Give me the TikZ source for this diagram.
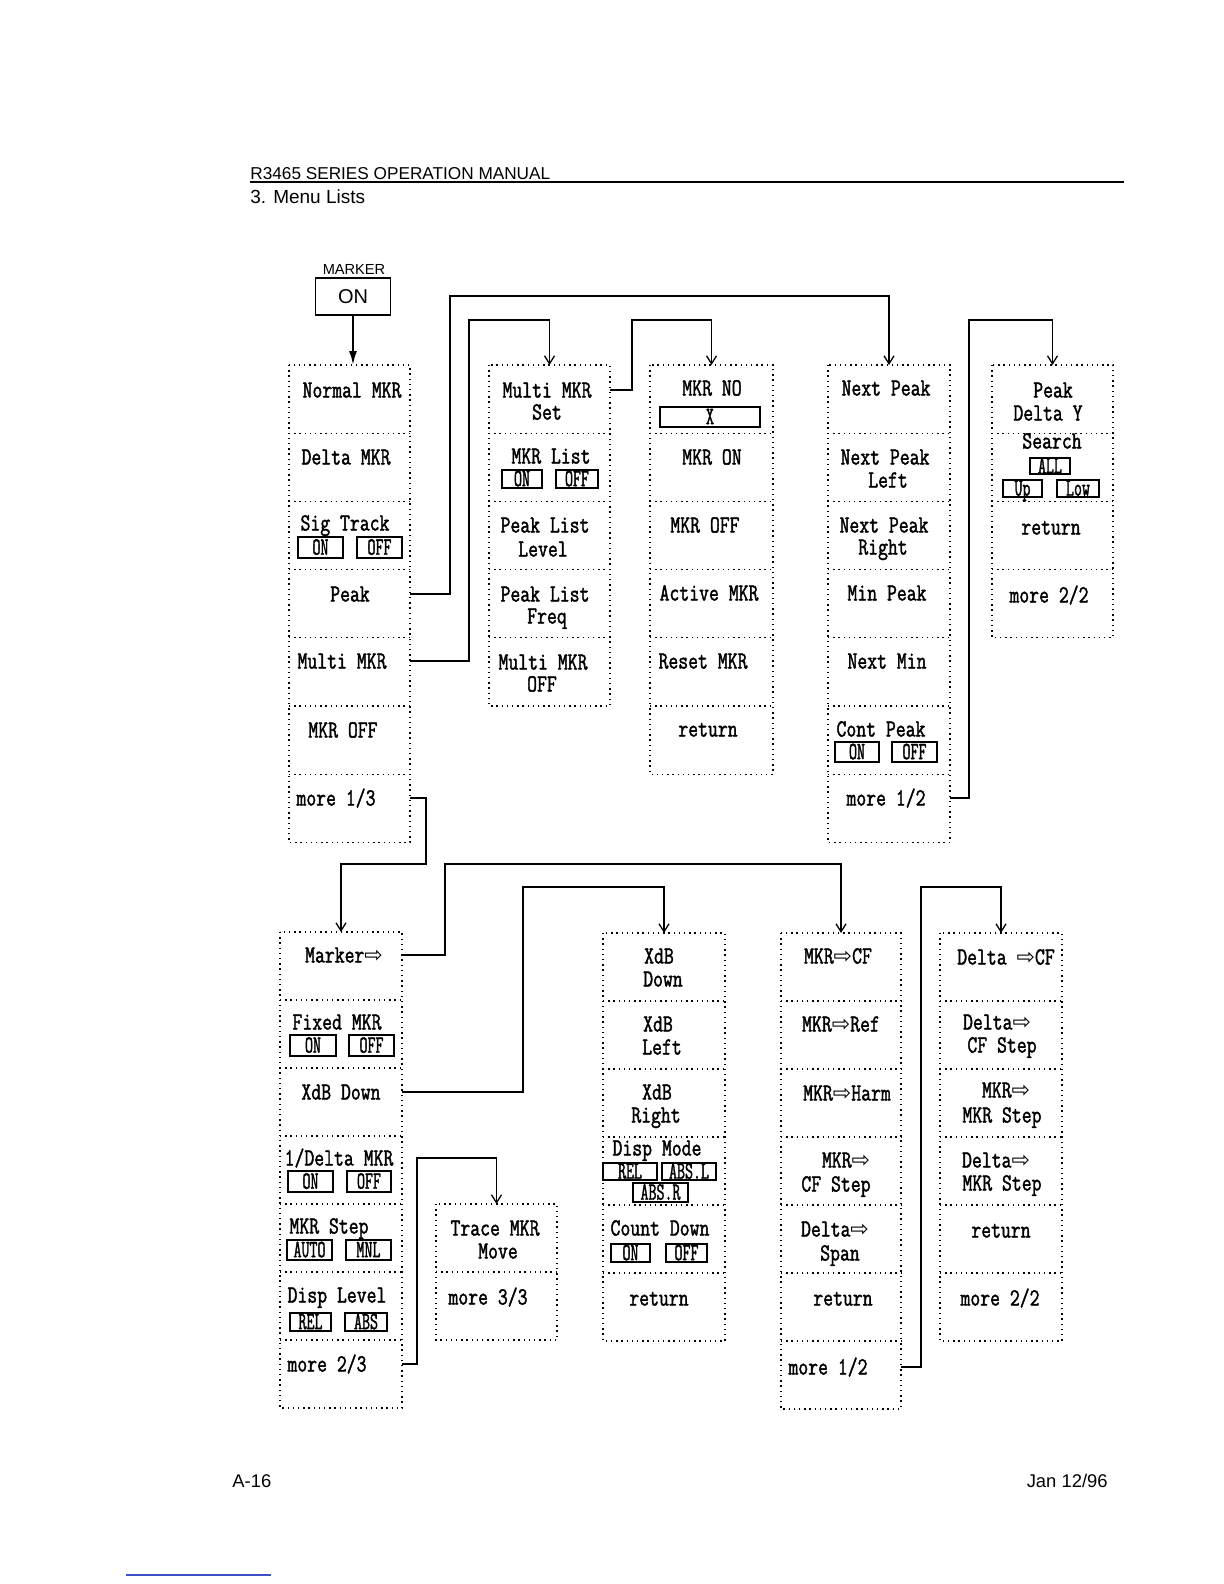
\documentclass[tikz,border=0pt]{standalone}
\usepackage{fontspec}
\setmainfont{Liberation Sans}
\newfontfamily\mfont{Latin Modern Mono}[FakeStretch=0.78,FakeBold=1.6]
\newfontfamily\bfont{Latin Modern Mono}[FakeStretch=0.62,FakeBold=1.4]
\newfontfamily\dvs{DejaVu Sans}
\usetikzlibrary{arrows.meta}
\newcommand\arr{{\dvs\fontsize{11}{11}\selectfont ⇨}}
\tikzset{
  cellbox/.style={rectangle, draw=none, inner sep=0pt, outer sep=0pt},
  dots/.style={line width=0.65pt, dash pattern=on 0.7pt off 1.9pt},
  lbl/.style={anchor=base, inner sep=0pt, font=\mfont\fontsize{12.3}{12}\selectfont},
  btn/.style={draw, line width=0.7pt, inner sep=0pt, text height=7.2pt, text depth=0pt, font=\bfont\fontsize{12.5}{12.5}\selectfont},
  conn/.style={line width=0.65pt},
  arrowconn/.style={conn, -{Straight Barb[length=4pt,width=5pt]}},
  hdr/.style={inner sep=0pt, font=\fontsize{8.6}{10}\selectfont},
}
\newcommand\menucol[6]{%
  \foreach \i in {1,...,#5}{
    \node[cellbox, minimum width={(#3-#2)*0.5pt}, minimum height={#6*0.5pt}] (#1\i) at ({(#2+#3)/2},{#4+(\i-0.5)*#6}) {};
  }
  \draw[dots] (#11.north west) rectangle (#1#5.south east);
  \pgfmathtruncatemacro\nm{#5-1}
  \foreach \i in {1,...,\nm}{
    \draw[dots] (#1\i.south west) -- (#1\i.south east);
  }
}
\newcommand\lbl[4]{\node[lbl] (#1) at (#2,{#3+7.5}) {#4};}
\newcommand\btn[6]{\node[btn, minimum width={(#4-#2)*0.5pt}, minimum height={(#5-#3)*0.5pt}] (#1) at ({(#2+#4)/2},{(#3+#5)/2}) {#6};}
\begin{document}
\begin{tikzpicture}[x=0.5pt,y=-0.5pt]
\useasboundingbox[fill=white] (0,0) rectangle (1224,1584);
% header
\node[hdr, anchor=base west] (hd) at (250,179) {R3465 SERIES OPERATION MANUAL};
\coordinate (ruleL) at (250,182);
\coordinate (ruleR) at (1124,182);
\draw[line width=0.6pt] (ruleL) -- (ruleR);
\node[inner sep=0pt, anchor=base west, font=\fontsize{9.5}{11}\selectfont] (ml) at (250,203) {3. Menu Lists};
% footer
\node[inner sep=0pt, anchor=base west, font=\fontsize{9.2}{11}\selectfont] (pg) at (232,1487) {A-16};
\node[inner sep=0pt, anchor=base east, font=\fontsize{9.2}{11}\selectfont] (dt) at (1108,1487) {Jan 12/96};
\coordinate (blL) at (126,1575);
\coordinate (blR) at (271,1575);
\draw[line width=0.8pt, color={rgb,255:red,60;green,80;blue,200}] (blL) -- (blR);
% MARKER ON
\node[inner sep=0pt, anchor=base, font=\fontsize{7.3}{8}\selectfont] (mk) at (354,274) {MARKER};
\node[draw, line width=0.8pt, minimum width=37.5pt, minimum height=18.5pt, inner sep=0pt, font=\fontsize{10}{10}\selectfont] (on) at (353,296.5) {ON};
% columns
\menucol{A}{289}{410}{365}{7}{68.2}
\menucol{B}{489}{610}{365}{5}{68.2}
\menucol{C}{650}{773}{365}{6}{68.2}
\menucol{D}{828}{950}{365}{7}{68.2}
\menucol{E}{992}{1113}{365}{4}{68.2}
\menucol{F}{280}{402}{932}{7}{68}
\menucol{G}{603}{725}{933}{6}{68}
\menucol{H}{781}{901}{933}{7}{68}
\menucol{I}{940}{1062}{933}{6}{68}
\menucol{J}{436}{557}{1204}{2}{68}
% column A
\lbl{tA1}{352}{390}{Normal MKR}
\lbl{tA2}{346}{457}{Delta MKR}
\lbl{tA3}{345}{523}{Sig Track}
\btn{bA3a}{298}{537}{343}{558}{ON}
\btn{bA3b}{357}{537}{402}{558}{OFF}
\lbl{tA4}{350}{594}{Peak}
\lbl{tA5}{342}{661}{Multi MKR}
\lbl{tA6}{343}{730}{MKR OFF}
\lbl{tA7}{336}{798}{more 1/3}
% column B
\lbl{tB1}{547}{390}{Multi MKR}
\lbl{tB1b}{547}{412}{Set}
\lbl{tB2}{551}{456}{MKR List}
\btn{bB2a}{502}{470}{542}{488}{ON}
\btn{bB2b}{556}{470}{598}{488}{OFF}
\lbl{tB3}{545}{525}{Peak List}
\lbl{tB3b}{543}{549}{Level}
\lbl{tB4}{545}{594}{Peak List}
\lbl{tB4b}{547}{616}{Freq}
\lbl{tB5}{543}{662}{Multi MKR}
\lbl{tB5b}{542}{684}{OFF}
% column C
\lbl{tC1}{712}{388}{MKR NO}
\btn{bC1}{660}{407}{760}{427}{X}
\lbl{tC2}{712}{457}{MKR ON}
\lbl{tC3}{705}{525}{MKR OFF}
\lbl{tC4}{709}{593}{Active MKR}
\lbl{tC5}{703}{661}{Reset MKR}
\lbl{tC6}{708}{729}{return}
% column D
\lbl{tD1}{886}{388}{Next Peak}
\lbl{tD2}{885}{457}{Next Peak}
\lbl{tD2b}{888}{480}{Left}
\lbl{tD3}{884}{525}{Next Peak}
\lbl{tD3b}{883}{547}{Right}
\lbl{tD4}{887}{593}{Min Peak}
\lbl{tD5}{887}{661}{Next Min}
\lbl{tD6}{881}{729}{Cont Peak}
\btn{bD6a}{835}{742}{879}{762}{ON}
\btn{bD6b}{892}{742}{937}{762}{OFF}
\lbl{tD7}{886}{798}{more 1/2}
% column E
\lbl{tE1}{1053}{390}{Peak}
\lbl{tE1b}{1048}{413}{Delta Y}
\lbl{tE2}{1052}{441}{Search}
\btn{bE2a}{1030}{458}{1070}{474}{ALL}
\btn{bE2b}{1003}{480}{1042}{497}{Up}
\btn{bE2c}{1057}{480}{1099}{497}{Low}
\lbl{tE3}{1051}{527}{return}
\lbl{tE4}{1049}{595}{more 2/2}
% column F
\lbl{tF1}{344}{955}{Marker\arr}
\lbl{tF2}{337}{1022}{Fixed MKR}
\btn{bF2a}{290}{1035}{336}{1056}{ON}
\btn{bF2b}{349}{1035}{394}{1056}{OFF}
\lbl{tF3}{341}{1092}{XdB Down}
\lbl{tF4}{339}{1158}{1/Delta MKR}
\btn{bF4a}{288}{1171}{333}{1192}{ON}
\btn{bF4b}{347}{1171}{391}{1192}{OFF}
\lbl{tF5}{329}{1226}{MKR Step}
\btn{bF5a}{287}{1240}{332}{1260}{AUTO}
\btn{bF5b}{346}{1240}{391}{1260}{MNL}
\lbl{tF6}{337}{1295}{Disp Level}
\btn{bF6a}{290}{1313}{331}{1331}{REL}
\btn{bF6b}{345}{1313}{387}{1331}{ABS}
\lbl{tF7}{327}{1364}{more 2/3}
% column J
\lbl{tJ1}{495}{1228}{Trace MKR}
\lbl{tJ1b}{498}{1251}{Move}
\lbl{tJ2}{488}{1297}{more 3/3}
% column G
\lbl{tG1}{659}{956}{XdB}
\lbl{tG1b}{663}{979}{Down}
\lbl{tG2}{658}{1024}{XdB}
\lbl{tG2b}{662}{1047}{Left}
\lbl{tG3}{657}{1092}{XdB}
\lbl{tG3b}{656}{1115}{Right}
\lbl{tG4}{657}{1148}{Disp Mode}
\btn{bG4a}{603}{1163}{657}{1180}{REL}
\btn{bG4b}{662}{1163}{716}{1180}{ABS.L}
\btn{bG4c}{633}{1183}{688}{1202}{ABS.R}
\lbl{tG5}{660}{1228}{Count Down}
\btn{bG5a}{611}{1244}{650}{1262}{ON}
\btn{bG5b}{666}{1244}{707}{1262}{OFF}
\lbl{tG6}{659}{1298}{return}
% column H
\lbl{tH1}{838}{956}{MKR\arr CF}
\lbl{tH2}{841}{1024}{MKR\arr Ref}
\lbl{tH3}{847}{1093}{MKR\arr Harm}
\lbl{tH4}{846}{1160}{MKR\arr}
\lbl{tH4b}{836}{1184}{CF Step}
\lbl{tH5}{835}{1229}{Delta\arr}
\lbl{tH5b}{840}{1253}{Span}
\lbl{tH6}{843}{1298}{return}
\lbl{tH7}{828}{1367}{more 1/2}
% column I
\lbl{tI1}{1006}{957}{Delta \arr CF}
\lbl{tI2}{997}{1022}{Delta\arr}
\lbl{tI2b}{1002}{1045}{CF Step}
\lbl{tI3}{1006}{1090}{MKR\arr}
\lbl{tI3b}{1002}{1115}{MKR Step}
\lbl{tI4}{996}{1160}{Delta\arr}
\lbl{tI4b}{1002}{1183}{MKR Step}
\lbl{tI5}{1001}{1230}{return}
\lbl{tI6}{1000}{1298}{more 2/2}
% connectors
\draw[line width=1pt, -{Latex[length=7pt,width=4pt]}] (on.south) -- (on.south |- A1.north);
\coordinate (k1) at (450,296);
\coordinate (k2) at (469,320);
\coordinate (k3) at (632,320);
\coordinate (k4) at (969,320);
\coordinate (k5) at (426,864);
\coordinate (k6) at (445,864);
\coordinate (k7) at (523,887);
\coordinate (k8) at (921,887);
\coordinate (k9) at (417,1158);
\draw[arrowconn] (A4.east |- tA4) -- (k1 |- tA4) -- (k1) -- (D1.north |- k1) -- (D1.north);
\draw[arrowconn] (A5.east |- tA5) -- (k2 |- tA5) -- (k2) -- (B1.north |- k2) -- (B1.north);
\draw[arrowconn] (B1.east |- tB1) -- (k3 |- tB1) -- (k3) -- (C1.north |- k3) -- (C1.north);
\draw[arrowconn] (D7.east |- tD7) -- (k4 |- tD7) -- (k4) -- (E1.north |- k4) -- (E1.north);
\draw[arrowconn] (A7.east |- tA7) -- (k5 |- tA7) -- (k5) -- (F1.north |- k5) -- (F1.north);
\draw[arrowconn] (F1.east |- tF1) -- (k6 |- tF1) -- (k6) -- (H1.north |- k6) -- (H1.north);
\draw[arrowconn] (F3.east |- tF3) -- (k7 |- tF3) -- (k7) -- (G1.north |- k7) -- (G1.north);
\draw[arrowconn] (H7.east |- tH7) -- (k8 |- tH7) -- (k8) -- (I1.north |- k8) -- (I1.north);
\draw[arrowconn] (F7.east |- tF7) -- (k9 |- tF7) -- (k9) -- (J1.north |- k9) -- (J1.north);
\end{tikzpicture}
\end{document}
